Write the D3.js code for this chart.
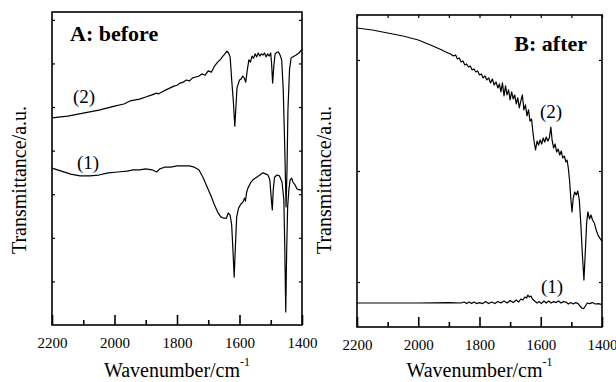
<!DOCTYPE html>
<html>
<head>
<meta charset="utf-8">
<script src="https://cdn.jsdelivr.net/npm/d3@7"></script>
<style>
  body { margin: 0; background: #fff; }
</style>
</head>
<body>
<script>
var width = 616;
var height = 382;
var serif = "'Liberation Serif', 'Times New Roman', Times, serif";

// wavenumber ticks (cm-1)
var majorTicks = [2200, 2000, 1800, 1600, 1400];
var minorTicks = [2100, 1900, 1700, 1500];

// panel A: [wavenumber, transmittance a.u.]
var beforeSpec2 = [
  [2200, 4.75], [2150, 4.79], [2100, 4.86], [2050, 4.93], [2000, 5.02], [1970, 5.07],
  [1950, 5.14], [1920, 5.18], [1900, 5.23], [1880, 5.28], [1865, 5.32], [1860, 5.30],
  [1850, 5.34], [1830, 5.41], [1810, 5.48], [1800, 5.50], [1790, 5.55], [1780, 5.57],
  [1770, 5.62], [1760, 5.60], [1750, 5.67], [1740, 5.69], [1730, 5.71], [1720, 5.76],
  [1710, 5.73], [1700, 5.83], [1690, 5.80], [1680, 5.94], [1670, 6.03], [1660, 6.10],
  [1655, 6.15], [1650, 6.19], [1645, 6.24], [1640, 6.28], [1635, 6.24], [1630, 6.15],
  [1625, 5.62], [1620, 5.16], [1615, 4.56], [1612, 4.93], [1608, 5.44], [1600, 5.62],
  [1595, 5.64], [1590, 5.71], [1585, 5.67], [1580, 5.57], [1575, 5.85], [1570, 6.08],
  [1565, 6.03], [1560, 6.17], [1555, 6.12], [1550, 6.22], [1545, 6.15], [1540, 6.24],
  [1535, 6.17], [1530, 6.22], [1525, 6.19], [1520, 6.24], [1515, 6.15], [1510, 6.22],
  [1505, 6.17], [1500, 6.24], [1497, 5.96], [1494, 5.55], [1490, 5.96], [1486, 6.22],
  [1480, 6.26], [1475, 6.26], [1470, 6.19], [1465, 6.08], [1460, 5.39], [1455, 4.01],
  [1451, 2.71], [1448, 3.56], [1445, 4.93], [1440, 5.85], [1435, 6.12], [1430, 6.15],
  [1420, 6.19], [1410, 6.24], [1405, 6.28], [1400, 6.33]
];
var beforeSpec1 = [
  [2200, 3.60], [2170, 3.53], [2140, 3.46], [2110, 3.42], [2080, 3.42], [2050, 3.44],
  [2020, 3.49], [1990, 3.51], [1960, 3.53], [1940, 3.56], [1920, 3.56], [1900, 3.58],
  [1880, 3.56], [1865, 3.51], [1855, 3.58], [1840, 3.62], [1820, 3.62], [1800, 3.65],
  [1780, 3.65], [1760, 3.65], [1745, 3.62], [1730, 3.56], [1717, 3.39], [1705, 3.19],
  [1690, 2.94], [1680, 2.75], [1670, 2.59], [1660, 2.48], [1650, 2.45], [1642, 2.45],
  [1636, 2.57], [1630, 2.52], [1625, 2.29], [1621, 1.72], [1617, 1.10], [1613, 1.83],
  [1609, 2.48], [1603, 2.68], [1595, 2.78], [1589, 2.82], [1584, 2.91], [1581, 2.84],
  [1577, 3.05], [1573, 3.14], [1565, 3.26], [1557, 3.33], [1545, 3.39], [1535, 3.44],
  [1525, 3.49], [1515, 3.46], [1509, 3.44], [1503, 3.33], [1498, 2.87], [1495, 2.64],
  [1492, 3.10], [1488, 3.39], [1480, 3.44], [1472, 3.42], [1464, 3.28], [1458, 2.87],
  [1455, 1.72], [1452, 0.30], [1449, 1.72], [1446, 2.71], [1442, 3.10], [1438, 3.33],
  [1433, 3.37], [1429, 3.28], [1422, 3.21], [1416, 3.12], [1408, 3.10], [1400, 3.10]
];

// panel B: [wavenumber, transmittance a.u.]
var afterSpec2 = [
  [2200, 3.288], [2150, 3.270], [2100, 3.243], [2050, 3.216], [2000, 3.180], [1960, 3.135],
  [1930, 3.099], [1910, 3.072], [1895, 3.054], [1885, 3.036], [1878, 3.045], [1872, 3.009],
  [1866, 3.018], [1860, 2.982], [1854, 2.991], [1848, 2.955], [1842, 2.964], [1836, 2.937],
  [1830, 2.946], [1824, 2.910], [1818, 2.919], [1812, 2.892], [1806, 2.901], [1800, 2.865],
  [1794, 2.874], [1788, 2.838], [1782, 2.856], [1776, 2.820], [1770, 2.838], [1764, 2.793],
  [1758, 2.829], [1752, 2.775], [1746, 2.802], [1740, 2.748], [1735, 2.784], [1730, 2.712],
  [1725, 2.793], [1720, 2.676], [1715, 2.766], [1710, 2.685], [1705, 2.730], [1700, 2.640],
  [1695, 2.712], [1690, 2.649], [1685, 2.685], [1680, 2.604], [1675, 2.658], [1670, 2.568],
  [1665, 2.631], [1660, 2.685], [1655, 2.550], [1650, 2.595], [1645, 2.496], [1640, 2.550],
  [1635, 2.450], [1630, 2.468], [1626, 2.360], [1622, 2.270], [1617, 2.189], [1612, 2.270],
  [1607, 2.234], [1602, 2.280], [1597, 2.243], [1592, 2.297], [1587, 2.261], [1582, 2.306],
  [1577, 2.270], [1572, 2.297], [1567, 2.396], [1563, 2.280], [1558, 2.207], [1553, 2.243],
  [1548, 2.171], [1543, 2.198], [1538, 2.144], [1533, 2.180], [1528, 2.117], [1523, 2.135],
  [1518, 2.081], [1514, 2.099], [1510, 2.027], [1506, 1.919], [1502, 1.757], [1498, 1.631],
  [1494, 1.757], [1489, 1.811], [1484, 1.784], [1479, 1.820], [1474, 1.739], [1469, 1.514],
  [1464, 1.243], [1459, 1.018], [1455, 1.243], [1450, 1.541], [1446, 1.631], [1441, 1.568],
  [1436, 1.604], [1431, 1.559], [1425, 1.532], [1419, 1.468], [1413, 1.423], [1407, 1.396],
  [1400, 1.369]
];
var afterSpec1 = [
  [2200, 0.811], [2000, 0.811], [1900, 0.815], [1860, 0.811], [1850, 0.820], [1842, 0.806],
  [1834, 0.820], [1826, 0.806], [1818, 0.820], [1810, 0.806], [1800, 0.815], [1790, 0.806],
  [1780, 0.824], [1770, 0.806], [1760, 0.820], [1750, 0.806], [1740, 0.824], [1730, 0.811],
  [1720, 0.829], [1710, 0.811], [1700, 0.833], [1690, 0.815], [1680, 0.838], [1672, 0.820],
  [1665, 0.847], [1658, 0.838], [1652, 0.865], [1646, 0.856], [1642, 0.883], [1637, 0.865],
  [1632, 0.874], [1627, 0.847], [1620, 0.829], [1612, 0.811], [1605, 0.824], [1598, 0.806],
  [1590, 0.829], [1582, 0.811], [1574, 0.829], [1566, 0.811], [1558, 0.824], [1550, 0.815],
  [1542, 0.829], [1534, 0.811], [1526, 0.824], [1518, 0.820], [1510, 0.802], [1502, 0.815],
  [1494, 0.802], [1486, 0.815], [1478, 0.806], [1472, 0.784], [1466, 0.766], [1460, 0.761],
  [1454, 0.784], [1448, 0.811], [1440, 0.806], [1432, 0.815], [1422, 0.802], [1412, 0.806],
  [1400, 0.797]
];

var panels = [
  { title: "A: before", box: [52, 302, 12, 325], yDomain: [0, 7.18], yTicks: [1, 2, 3, 4, 5, 6, 7],
    titlePos: [70, 41], topTicks: false,
    series: [
      { data: beforeSpec2, label: "(2)", at: [73, 103] },
      { data: beforeSpec1, label: "(1)", at: [77, 169] }
    ] },
  { title: "B: after", box: [357, 602, 15, 327], yDomain: [0.595, 3.405], yTicks: [1, 2, 3],
    titlePos: [587, 51], topTicks: true,
    series: [
      { data: afterSpec2, label: "(2)", at: [540, 118] },
      { data: afterSpec1, label: "(1)", at: [541, 293] }
    ] }
];

var svg = d3.select("body").append("svg")
  .attr("width", width).attr("height", height)
  .style("font-family", serif);

panels.forEach(function (p) {
  var x = d3.scaleLinear().domain([2200, 1400]).range([p.box[0], p.box[1]]);
  var y = d3.scaleLinear().domain(p.yDomain).range([p.box[3], p.box[2]]);
  var g = svg.append("g");

  // bottom axis, ticks point inward
  var major = g.append("g").attr("transform", "translate(0," + p.box[3] + ")")
    .call(d3.axisBottom(x).tickValues(majorTicks).tickSize(-10).tickPadding(12).tickFormat(d3.format("d")));
  var minor = g.append("g").attr("transform", "translate(0," + p.box[3] + ")")
    .call(d3.axisBottom(x).tickValues(minorTicks).tickSize(-5).tickFormat(""));
  [major, minor].forEach(function (a) {
    a.select(".domain").remove();
    a.selectAll("line").attr("stroke", "#000").attr("stroke-width", 1.6);
  });
  major.selectAll("text")
    .attr("fill", "#000")
    .style("font-family", serif).style("font-size", "15px");

  if (p.topTicks) {
    var top = g.append("g").attr("transform", "translate(0," + p.box[2] + ")")
      .call(d3.axisTop(x).tickValues(majorTicks.concat(minorTicks)).tickSize(-3).tickFormat(""));
    top.select(".domain").remove();
    top.selectAll("line").attr("stroke", "#000").attr("stroke-width", 1.2);
  }

  // y ticks on both sides, no labels
  var left = g.append("g").attr("transform", "translate(" + p.box[0] + ",0)")
    .call(d3.axisLeft(y).tickValues(p.yTicks).tickSize(-3).tickFormat(""));
  var right = g.append("g").attr("transform", "translate(" + p.box[1] + ",0)")
    .call(d3.axisRight(y).tickValues(p.yTicks).tickSize(-3).tickFormat(""));
  [left, right].forEach(function (a) {
    a.select(".domain").remove();
    a.selectAll("line").attr("stroke", "#000").attr("stroke-width", 1.2);
  });

  // frame
  g.append("rect")
    .attr("x", p.box[0]).attr("y", p.box[2])
    .attr("width", p.box[1] - p.box[0]).attr("height", p.box[3] - p.box[2])
    .attr("fill", "none").attr("stroke", "#000").attr("stroke-width", 1.6);

  var line = d3.line()
    .x(function (d) { return x(d[0]); })
    .y(function (d) { return y(d[1]); });

  p.series.forEach(function (s) {
    g.append("path").datum(s.data)
      .attr("d", line)
      .attr("fill", "none").attr("stroke", "#000")
      .attr("stroke-width", 1.2).attr("stroke-linejoin", "round");
    g.append("text").attr("x", s.at[0]).attr("y", s.at[1])
      .style("font-family", serif).style("font-size", "19px").text(s.label);
  });

  g.append("text")
    .attr("x", p.titlePos[0]).attr("y", p.titlePos[1])
    .attr("text-anchor", p.topTicks ? "end" : "start")
    .style("font-family", serif)
    .style("font-size", "22px").style("font-weight", "bold")
    .text(p.title);

  // axis titles
  var cx = (p.box[0] + p.box[1]) / 2;
  var xt = g.append("text").attr("x", cx).attr("y", 377)
    .attr("text-anchor", "middle")
    .style("font-family", serif).style("font-size", "20px");
  xt.append("tspan").text("Wavenumber/cm");
  xt.append("tspan").attr("dy", -11).style("font-size", "12px").text("-1");

  g.append("text")
    .attr("transform", "translate(" + (p.box[0] - 26) + ",180) rotate(-90)")
    .attr("text-anchor", "middle")
    .style("font-family", serif).style("font-size", "20px")
    .text("Transmittance/a.u.");
});
</script>
</body>
</html>
